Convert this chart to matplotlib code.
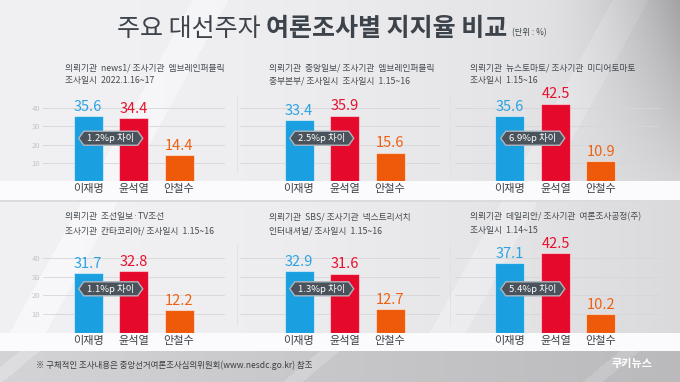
import numpy as np
import matplotlib
matplotlib.use('Agg')
import matplotlib.pyplot as plt
from matplotlib.patches import Polygon
from matplotlib.transforms import IdentityTransform

plt.rcParams['font.family'] = ['Noto Sans CJK KR', 'DejaVu Sans']

W, H = 680, 382

# poll data, one entry per panel
candidates = ['이재명', '윤석열', '안철수']
lee = [35.6, 33.4, 35.6, 31.7, 32.9, 37.1]
yoon = [34.4, 35.9, 42.5, 32.8, 31.6, 42.5]
ahn = [14.4, 15.6, 10.9, 12.2, 12.7, 10.2]
info = [
    ['의뢰기관  news1/ 조사기관  엠브레인퍼블릭', '조사일시  2022.1.16~17'],
    ['의뢰기관  중앙일보/ 조사기관  엠브레인퍼블릭', '중부본부/ 조사일시  조사일시  1.15~16'],
    ['의뢰기관  뉴스토마토/ 조사기관  미디어토마토', '조사일시  1.15~16'],
    ['의뢰기관  조선일보·TV조선', '조사기관  칸타코리아/ 조사일시  1.15~16'],
    ['의뢰기관  SBS/ 조사기관  넥스트리서치', '인터내셔널/ 조사일시  1.15~16'],
    ['의뢰기관  데일리안/ 조사기관  여론조사공정(주)', '조사일시  1.14~15'],
]
yticks = [10, 20, 30, 40]

colors = ['#1a9fe0', '#e5092c', '#ee5a0a']
text_colors = ['#2aa3e3', '#e8102e', '#ef6112']

fig = plt.figure(figsize=(W / 100, H / 100), dpi=100)

# background
bg = fig.add_axes([0, 0, 1, 1])
yy, xx = np.mgrid[0:H, 0:W]
v = 0.945 - 0.09 * (xx / W) ** 2
v -= 0.22 * np.clip((xx - 520) / 160, 0, 1) ** 2 * np.clip(1 - yy / 200, 0, 1)
streak = (np.abs(((xx + 0.55 * yy) % 420) - 210) < 18) * 0.025
v = v + streak
v[181:200, :] = 0.985
v[200:202, :] = 0.86
v[333:351, :] = 0.985
foot = 0.83 - 0.1 * (xx / W)
foot += (np.abs(((xx + 1.2 * yy) % 300) - 150) < 10) * 0.04
v[351:, :] = foot[351:, :]
img = np.dstack([v, v, v * 1.01])
bg.imshow(np.clip(img, 0, 1), extent=[0, W, H, 0], aspect='auto')
bg.set_xlim(0, W)
bg.set_ylim(H, 0)
bg.axis('off')

# title
renderer = fig.canvas.get_renderer()
t1 = fig.text(117 / W, 1 - 29 / H, '주요 대선주자 ', fontsize=18, color='#3d434a',
              va='center', ha='left')
x1 = t1.get_window_extent(renderer).x1
t2 = fig.text(x1 / W, 1 - 29 / H, '여론조사별 지지율 비교', fontsize=18, color='#3d434a',
              va='center', ha='left', fontweight='bold')
x2 = t2.get_window_extent(renderer).x1
fig.text((x2 + 5) / W, 1 - 33 / H, '(단위 : %)', fontsize=6, color='#3d434a',
         va='center', ha='left')

# panel geometry (pixels)
centers = [88, 299, 510]
spans = [(43, 225), (240, 440), (455, 660)]
rows = [(181, 1.82), (333, 1.88)]
step = 45.5
text_x = [65, 269, 470]
text_y = [(68, 81), (217, 231)]

for i in range(6):
    r, c = divmod(i, 3)
    base, scale = rows[r]
    L, R = spans[c]
    top = base - 50 * scale
    ax = fig.add_axes([L / W, 1 - base / H, (R - L) / W, (base - top) / H])
    ax.patch.set_alpha(0)
    ax.set_xlim((L - centers[c]) / step, (R - centers[c]) / step)
    ax.set_ylim(0, 50)
    vals = [lee[i], yoon[i], ahn[i]]
    ax.bar(range(3), vals, width=29 / step, color=colors,
           edgecolor=(1, 1, 1, 0.5), linewidth=0.8, zorder=3)
    for k, val in enumerate(vals):
        ax.text(k, val + 1.2, f'{val}', ha='center', va='bottom', fontsize=10.5,
                color=text_colors[k], zorder=4)
    ax.set_yticks(yticks)
    ax.grid(axis='y', color='#d6d6d8', linewidth=0.6, zorder=0)
    ax.set_xticks([])
    ax.tick_params(axis='y', length=0, pad=2, labelsize=5.5, labelcolor='#c4c4c6')
    if c != 0:
        ax.set_yticklabels([])
    for s in ax.spines.values():
        s.set_visible(False)

    # category labels
    for k, name in enumerate(candidates):
        ax.text(k, -4.2, name, ha='center', va='center', fontsize=8,
                color='#3b3f44', clip_on=False)

    # gap badge
    gap = abs(lee[i] - yoon[i])
    cx, cy = ax.transData.transform((0.5, 23.5))
    hw, hh, tip = 32, 7, 5
    pts = [(cx - hw, cy), (cx - hw + tip, cy + hh), (cx + hw - tip, cy + hh),
           (cx + hw, cy), (cx + hw - tip, cy - hh), (cx - hw + tip, cy - hh)]
    ax.add_patch(Polygon(pts, closed=True, transform=IdentityTransform(),
                         facecolor='#4a535c', edgecolor='#aeb6be', linewidth=1,
                         zorder=5, clip_on=False))
    ax.text(0.5, 23.5, f'{gap:.1f}%p 차이', ha='center', va='center', fontsize=6.8,
            color='white', zorder=6)

    # poll info
    for line, ty in zip(info[i], text_y[r]):
        fig.text(text_x[c] / W, 1 - ty / H, line, fontsize=6.3, color='#444a50',
                 ha='left', va='center')

# panel dividers
for y0, y1 in [(95, 172), (245, 325)]:
    for x in [237, 450]:
        bg.plot([x, x], [y0, y1], color='#e0e0e2', linewidth=0.6)

# footer
fig.text(36 / W, 1 - 365 / H,
         '※ 구체적인 조사내용은 중앙선거여론조사심의위원회(www.nesdc.go.kr) 참조',
         fontsize=6.1, color='#3a3d42', ha='left', va='center')
fig.text(632 / W, 1 - 363 / H, '쿠키뉴스', fontsize=8, color='white',
         fontweight='bold', ha='center', va='center')

fig.savefig('out.png', dpi=100)
